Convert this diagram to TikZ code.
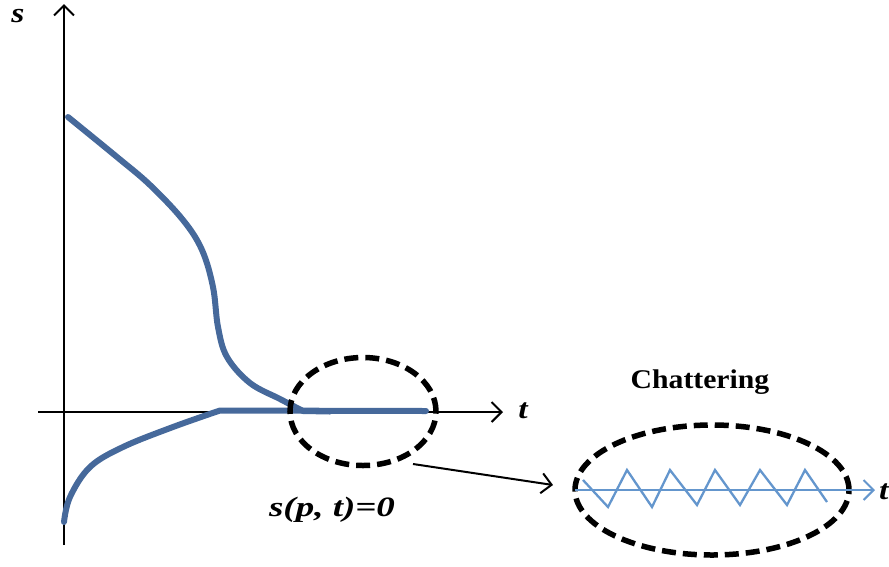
\documentclass[tikz,border=0pt]{standalone}
\usepackage{fontspec}
\setmainfont{Liberation Serif}
\usetikzlibrary{arrows.meta,shapes.geometric}
\definecolor{curveblue}{RGB}{70,105,155}
\definecolor{chatblue}{RGB}{100,150,205}
\tikzset{
  barb/.style={-{Straight Barb[length=10pt,width=20pt,line width=2pt]}},
  axis/.style={line width=2pt, barb},
  curve/.style={curveblue, line width=6pt, line cap=round, line join=round},
  dashring/.style={draw=black, line width=5.5pt, dash pattern=on 14pt off 7pt},
  lbl/.style={font=\bfseries\itshape\fontsize{28}{32}\selectfont, inner sep=0pt, xscale=1.2},
}
\begin{document}
\begin{tikzpicture}[x=1pt,y=-1pt]
\useasboundingbox (0,0) rectangle (889,566);
% axes
\coordinate (ybot) at (64,545);
\coordinate (ytop) at (64,4);
\coordinate (xleft) at (38,412);
\coordinate (xright) at (503,412);
\draw[axis] (ybot) -- (ytop);
\draw[axis] (xleft) -- (xright);
\node[lbl] (slab) at (18,16) {s};
\node[lbl] (tlab) at (523,411) {t};
% curves
\draw[curve] plot[smooth, tension=0.6] coordinates {(68,117) (117,157) (150,185) (183,220) (202,250) (213,287) (218,327) (227,357) (250,383) (280,399) (303,411)} -- (330,411.5);
\draw[curve] plot[smooth, tension=0.6] coordinates {(64,522) (70,497) (90,467) (123,447) (173,427) (220,410.5)} -- (426,411);
% ellipses
\node[dashring, ellipse, minimum width=146pt, minimum height=108pt, inner sep=0pt] (e1) at (363,411.5) {};
\node[dashring, ellipse, minimum width=274pt, minimum height=130pt, inner sep=0pt] (e2) at (712,490) {};
% connector
\coordinate (ca) at (413,464);
\coordinate (cb) at (553,485);
\draw[line width=2pt, barb] (ca) -- (cb);
\node[lbl, xscale=1.1] (eq) at (332,510) {s(p, t)=0};
\node[font=\bfseries\fontsize{27}{30}\selectfont, inner sep=0pt, xscale=1.1] (chat) at (700,382) {Chattering};
% chattering
\coordinate (la) at (575,490);
\coordinate (lb) at (875,490);
\draw[chatblue, line width=2.3pt, barb] (la) -- (lb);
\draw[chatblue, line width=2.3pt] (583,480) -- (608,507) -- (627,470) -- (652,507) -- (670,470) -- (697,505) -- (715,470) -- (740,505) -- (760,470) -- (787,505) -- (805,470) -- (827,502);
\node[lbl, anchor=west] (t2) at (879,492) {t};
\end{tikzpicture}
\end{document}
